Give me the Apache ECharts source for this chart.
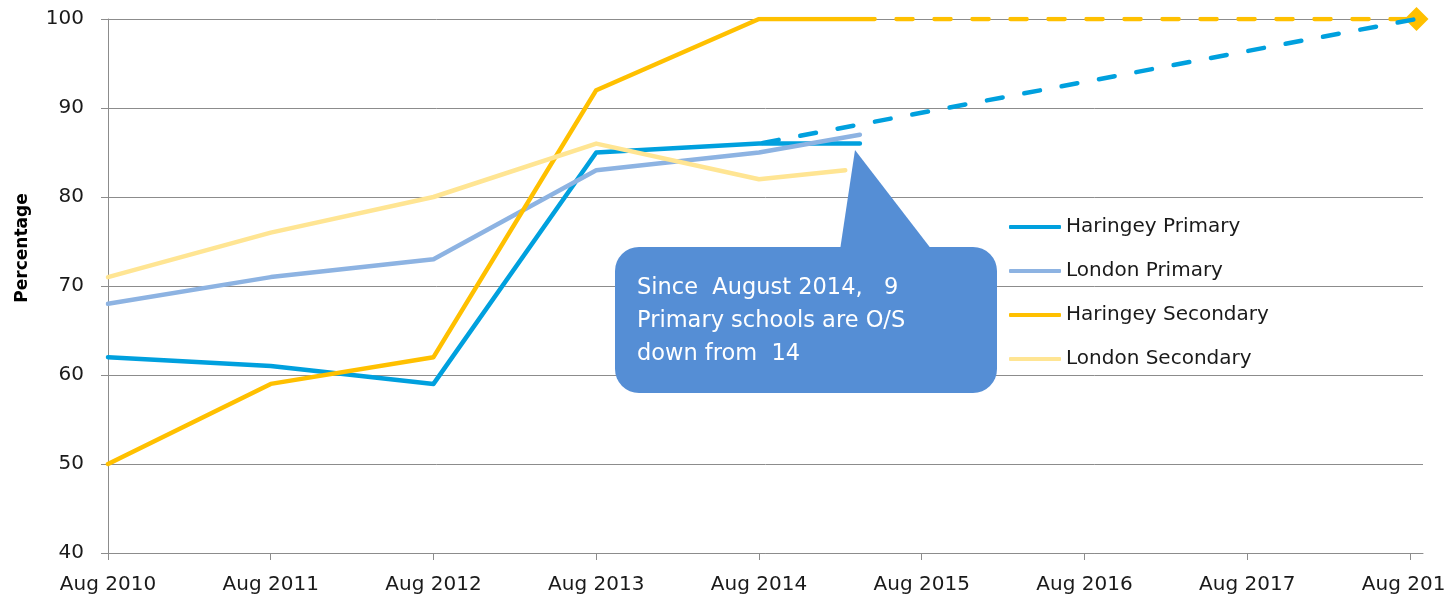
<!DOCTYPE html>
<html>
<head>
<meta charset="utf-8">
<script src="https://cdn.jsdelivr.net/npm/echarts@6/dist/echarts.min.js"></script>
<style>
  html, body { margin: 0; padding: 0; background: #fff; }
  #chart { width: 1444px; height: 600px; }
</style>
</head>
<body>
<div id="chart"></div>
<script>
// years since Aug 2010, labels for each year tick
const tickValues = [0, 1, 2, 3, 4, 5, 6, 7, 8];
const tickLabels = ['Aug 2010', 'Aug 2011', 'Aug 2012', 'Aug 2013', 'Aug 2014',
  'Aug 2015', 'Aug 2016', 'Aug 2017', 'Aug 2018'];

const seriesNames = ['Haringey Primary', 'London Primary', 'Haringey Secondary', 'London Secondary'];
const seriesColors = ['#00a0de', '#8db3e2', '#ffc000', '#ffe593'];

// annual points, Aug 2010 .. Aug 2014
const annualX = [0, 1, 2, 3, 4];
const haringeyPrimary = [62, 61, 59, 85, 86];
const londonPrimary = [68, 71, 73, 83, 85];
const haringeySecondary = [50, 59, 62, 92, 100];
const londonSecondary = [71, 76, 80, 86, 82];

// latest reading for each series (spring 2015)
const latestX = [4.62, 4.62, 4.71, 4.53];
const latestValues = [86, 87, 100, 83];

// targets (dashed)
const primaryTargetX = [4, 8.04];
const primaryTarget = [86, 100];
const secondaryTargetX = [4.71, 8.04];
const secondaryTarget = [100, 100];

const calloutText = 'Since  August 2014,   9\nPrimary schools are O/S\ndown from  14';

const FONT = 'DejaVu Sans';
const LINE_W = 4.5;
const chart = echarts.init(document.getElementById('chart'));

const allValues = [haringeyPrimary, londonPrimary, haringeySecondary, londonSecondary];

function pairs(xs, ys) {
  return xs.map((x, i) => [x, ys[i]]);
}

const mainSeries = seriesNames.map((name, i) => ({
  name: name,
  type: 'line',
  data: pairs(annualX, allValues[i]).concat([[latestX[i], latestValues[i]]]),
  symbol: 'none',
  color: seriesColors[i],
  lineStyle: { width: LINE_W, color: seriesColors[i], cap: 'round', join: 'round' }
}));

const option = {
  animation: false,
  grid: { left: 108, right: 21, top: 19, bottom: 47, containLabel: false, outerBoundsMode: 'none' },
  xAxis: {
    type: 'value',
    min: 0,
    max: 8.08,
    axisLine: { show: true, lineStyle: { color: '#8c8c8c', width: 1 } },
    axisTick: { show: true, length: 7, lineStyle: { color: '#8c8c8c' }, customValues: tickValues },
    axisLabel: {
      customValues: tickValues,
      formatter: (v) => tickLabels[Math.round(v)] || '',
      fontFamily: FONT,
      fontSize: 20,
      color: '#1a1a1a',
      margin: 22,
      hideOverlap: false
    },
    splitLine: { show: false }
  },
  yAxis: {
    type: 'value',
    min: 40,
    max: 100,
    interval: 10,
    axisLine: { show: true, lineStyle: { color: '#8c8c8c', width: 1 } },
    axisTick: { show: true, length: 7, lineStyle: { color: '#8c8c8c' } },
    axisLabel: {
      fontFamily: FONT,
      fontSize: 20,
      color: '#1a1a1a',
      margin: 24
    },
    splitLine: { show: true, lineStyle: { color: '#8c8c8c', width: 1 } }
  },
  legend: {
    orient: 'vertical',
    left: 1004,
    top: 211,
    data: seriesNames,
    icon: 'roundRect',
    itemWidth: 52,
    itemHeight: 4,
    itemGap: 22,
    textStyle: { fontFamily: FONT, fontSize: 20, color: '#1a1a1a', lineHeight: 22 }
  },
  series: mainSeries.concat([
    {
      name: 'Haringey Secondary target',
      type: 'line',
      data: pairs(secondaryTargetX, secondaryTarget).map((p, i) =>
        i === secondaryTarget.length - 1 ? { value: p, symbol: 'diamond', symbolSize: 24 } : { value: p, symbol: 'none' }),
      showSymbol: true,
      color: seriesColors[2],
      itemStyle: { color: seriesColors[2] },
      lineStyle: { width: LINE_W, color: seriesColors[2], type: [16, 22], dashOffset: -22, cap: 'round' },
      z: 3
    },
    {
      name: 'Haringey Primary target',
      type: 'line',
      data: pairs(primaryTargetX, primaryTarget),
      symbol: 'none',
      color: seriesColors[0],
      lineStyle: { width: LINE_W, color: seriesColors[0], type: [16, 22], dashOffset: -4, cap: 'round' },
      z: 4
    }
  ]),
  graphic: [
    {
      type: 'text',
      x: 23,
      y: 248,
      rotation: Math.PI / 2,
      style: {
        text: 'Percentage',
        font: 'bold 17px "' + FONT + '"',
        fill: '#000',
        align: 'center',
        verticalAlign: 'middle'
      }
    },
    {
      type: 'polygon',
      z: 100,
      shape: { points: [[840, 250], [932, 250], [855, 150]] },
      style: { fill: '#558ed5' }
    },
    {
      type: 'rect',
      z: 100,
      shape: { x: 615, y: 247, width: 382, height: 146, r: 24 },
      style: { fill: '#558ed5' }
    },
    {
      type: 'text',
      z: 101,
      x: 637,
      y: 272,
      style: {
        text: calloutText,
        font: '22.5px "' + FONT + '"',
        fill: '#ffffff',
        lineHeight: 33,
        verticalAlign: 'top'
      }
    }
  ]
};

chart.setOption(option);
</script>
</body>
</html>
